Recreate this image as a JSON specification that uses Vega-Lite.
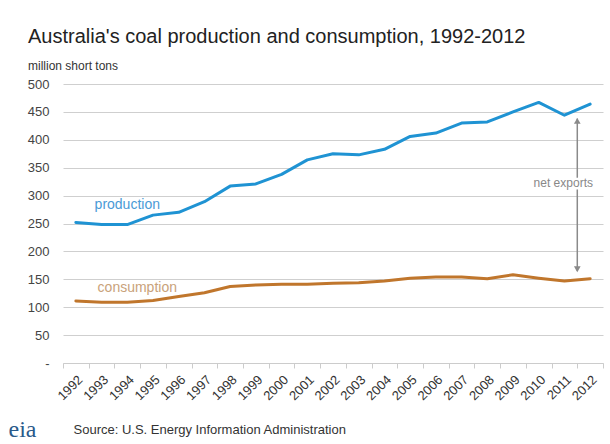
{
  "$schema": "https://vega.github.io/schema/vega-lite/v6.json",
  "autosize": "none",
  "width": 540,
  "height": 279,
  "padding": {"left": 63, "top": 84, "right": 7, "bottom": 81},
  "background": "white",
  "title": {
    "text": "Australia's coal production and consumption, 1992-2012",
    "subtitle": "million short tons",
    "anchor": "start",
    "frame": "group",
    "dx": -35,
    "dy": 2,
    "fontSize": 20,
    "fontWeight": "normal",
    "font": "Liberation Sans",
    "color": "#222222",
    "subtitleFont": "Liberation Sans",
    "subtitleFontSize": 12,
    "subtitleColor": "#333333",
    "subtitlePadding": 14,
    "offset": 8
  },
  "config": {
    "view": {"stroke": null},
    "font": "Liberation Sans"
  },
  "datasets": {
    "coal": [
      {"year": "1992", "series": "production", "value": 252},
      {"year": "1993", "series": "production", "value": 248},
      {"year": "1994", "series": "production", "value": 248},
      {"year": "1995", "series": "production", "value": 265},
      {"year": "1996", "series": "production", "value": 270},
      {"year": "1997", "series": "production", "value": 289},
      {"year": "1998", "series": "production", "value": 317},
      {"year": "1999", "series": "production", "value": 321},
      {"year": "2000", "series": "production", "value": 338},
      {"year": "2001", "series": "production", "value": 364},
      {"year": "2002", "series": "production", "value": 375},
      {"year": "2003", "series": "production", "value": 373},
      {"year": "2004", "series": "production", "value": 383},
      {"year": "2005", "series": "production", "value": 406},
      {"year": "2006", "series": "production", "value": 412},
      {"year": "2007", "series": "production", "value": 430},
      {"year": "2008", "series": "production", "value": 432},
      {"year": "2009", "series": "production", "value": 450},
      {"year": "2010", "series": "production", "value": 467},
      {"year": "2011", "series": "production", "value": 444},
      {"year": "2012", "series": "production", "value": 464},
      {"year": "1992", "series": "consumption", "value": 111},
      {"year": "1993", "series": "consumption", "value": 109},
      {"year": "1994", "series": "consumption", "value": 109},
      {"year": "1995", "series": "consumption", "value": 112},
      {"year": "1996", "series": "consumption", "value": 119},
      {"year": "1997", "series": "consumption", "value": 126},
      {"year": "1998", "series": "consumption", "value": 137},
      {"year": "1999", "series": "consumption", "value": 140},
      {"year": "2000", "series": "consumption", "value": 141},
      {"year": "2001", "series": "consumption", "value": 141},
      {"year": "2002", "series": "consumption", "value": 143},
      {"year": "2003", "series": "consumption", "value": 144},
      {"year": "2004", "series": "consumption", "value": 147},
      {"year": "2005", "series": "consumption", "value": 152},
      {"year": "2006", "series": "consumption", "value": 154},
      {"year": "2007", "series": "consumption", "value": 154},
      {"year": "2008", "series": "consumption", "value": 151},
      {"year": "2009", "series": "consumption", "value": 158},
      {"year": "2010", "series": "consumption", "value": 152},
      {"year": "2011", "series": "consumption", "value": 147},
      {"year": "2012", "series": "consumption", "value": 151}
    ],
    "labels": [
      {"year": "1994", "value": 284, "label": "production"},
      {"year": "1994", "value": 134, "label": "consumption"}
    ],
    "arrow": [
      {"year": "2012", "value": 438, "value2": 332},
      {"year": "2012", "value": 311, "value2": 165}
    ],
    "heads": [
      {"year": "2012", "value": 434, "dir": "up"},
      {"year": "2012", "value": 168, "dir": "down"}
    ],
    "note": [
      {"year": "2012", "value": 322, "label": "net exports"}
    ]
  },
  "encoding": {
    "y": {
      "field": "value",
      "type": "quantitative",
      "scale": {"domain": [0, 500], "nice": false},
      "axis": {
        "values": [0, 50, 100, 150, 200, 250, 300, 350, 400, 450, 500],
        "labelOverlap": false,
        "labelExpr": "datum.value == 0 ? '-' : datum.label",
        "labelFontSize": 13,
        "labelColor": "#444444",
        "labelPadding": 14,
        "ticks": false,
        "domain": false,
        "grid": true,
        "gridColor": "#cfcfcf",
        "gridWidth": 1,
        "title": "eia",
        "titleFont": "Liberation Serif",
        "titleFontSize": 24,
        "titleFontWeight": "normal",
        "titleColor": "#2a5a8a",
        "titleAngle": 0,
        "titleAlign": "left",
        "titleBaseline": "alphabetic",
        "titleX": -55,
        "titleY": 352
      }
    }
  },
  "layer": [
    {
      "data": {"name": "coal"},
      "mark": {"type": "line", "strokeWidth": 3, "strokeJoin": "round", "strokeCap": "round"},
      "encoding": {
        "x": {
          "field": "year",
          "type": "ordinal",
          "bandPosition": 0.5,
          "scale": {"type": "band", "paddingInner": 0, "paddingOuter": 0},
          "axis": {
            "labelAngle": -45,
            "labelFontSize": 13,
            "labelColor": "#333333",
            "labelPadding": 5,
            "labelOverlap": false,
            "tickBand": "extent",
            "tickColor": "#cccccc",
            "tickSize": 5,
            "domainColor": "#cccccc",
            "grid": false,
            "title": "Source: U.S. Energy Information Administration",
            "titleFont": "Liberation Sans",
            "titleFontSize": 13,
            "titleFontWeight": "normal",
            "titleColor": "#333333",
            "titleAnchor": "start",
            "titleAlign": "left",
            "titleBaseline": "alphabetic",
            "titleX": 10,
            "titleY": 70
          }
        },
        "color": {
          "field": "series",
          "type": "nominal",
          "scale": {"domain": ["production", "consumption"], "range": ["#1f93d3", "#c0762c"]},
          "legend": null
        }
      }
    },
    {
      "data": {"name": "labels"},
      "transform": [{"filter": "datum.label == 'production'"}],
      "mark": {"type": "text", "fontSize": 14, "color": "#4a9ad6"},
      "encoding": {
        "x": {"field": "year", "type": "ordinal", "bandPosition": 0.5},
        "text": {"field": "label"}
      }
    },
    {
      "data": {"name": "labels"},
      "transform": [{"filter": "datum.label == 'consumption'"}],
      "mark": {"type": "text", "fontSize": 14, "color": "#c9a27a", "dx": 10},
      "encoding": {
        "x": {"field": "year", "type": "ordinal", "bandPosition": 0.5},
        "text": {"field": "label"}
      }
    },
    {
      "data": {"name": "arrow"},
      "mark": {"type": "rule", "color": "#8a8a8a", "strokeWidth": 1.5},
      "encoding": {
        "x": {"field": "year", "type": "ordinal", "bandPosition": 0},
        "y2": {"field": "value2"}
      }
    },
    {
      "data": {"name": "heads"},
      "mark": {"type": "point", "filled": true, "color": "#8a8a8a", "size": 45, "opacity": 1},
      "encoding": {
        "x": {"field": "year", "type": "ordinal", "bandPosition": 0},
        "shape": {
          "field": "dir",
          "type": "nominal",
          "scale": {"domain": ["up", "down"], "range": ["triangle-up", "triangle-down"]},
          "legend": null
        }
      }
    },
    {
      "data": {"name": "note"},
      "mark": {"type": "text", "fontSize": 12, "color": "#888888", "dx": -14},
      "encoding": {
        "x": {"field": "year", "type": "ordinal", "bandPosition": 0},
        "text": {"field": "label"}
      }
    }
  ]
}
